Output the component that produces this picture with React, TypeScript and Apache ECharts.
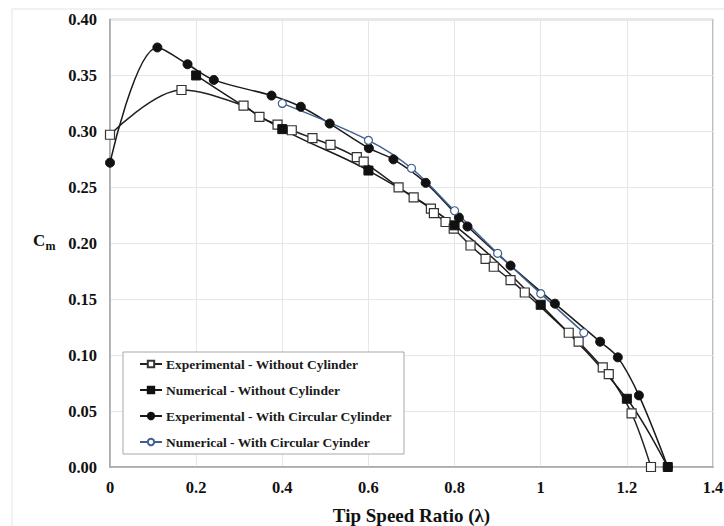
import React, { useEffect, useRef } from "react";
import * as echarts from "echarts";

// Power coefficient Cm versus tip speed ratio λ, [λ, Cm]
const expWithoutCylinder: [number, number][] = [
  [0, 0.297], [0.166, 0.337], [0.31, 0.323], [0.347, 0.313], [0.389, 0.306],
  [0.422, 0.301], [0.47, 0.294], [0.512, 0.288], [0.573, 0.277], [0.589, 0.273],
  [0.67, 0.25], [0.705, 0.241], [0.745, 0.231], [0.752, 0.227], [0.779, 0.219],
  [0.798, 0.213], [0.837, 0.198], [0.872, 0.186], [0.891, 0.179], [0.93, 0.167],
  [0.963, 0.156], [1.065, 0.12], [1.088, 0.112], [1.144, 0.089], [1.158, 0.083],
  [1.211, 0.048], [1.256, 0.0],
];

const numWithoutCylinder: [number, number][] = [
  [0.2, 0.35], [0.4, 0.302], [0.6, 0.265], [0.8, 0.216], [1.0, 0.145],
  [1.2, 0.061], [1.295, 0.0],
];

const expWithCylinder: [number, number][] = [
  [0, 0.272], [0.11, 0.375], [0.18, 0.36], [0.241, 0.346], [0.375, 0.332],
  [0.443, 0.322], [0.51, 0.307], [0.601, 0.285], [0.658, 0.275], [0.733, 0.254],
  [0.81, 0.223], [0.83, 0.215], [0.93, 0.18], [1.033, 0.146], [1.138, 0.112],
  [1.179, 0.098], [1.228, 0.064], [1.295, 0.0],
];

const numWithCylinder: [number, number][] = [
  [0.4, 0.325], [0.6, 0.292], [0.7, 0.267], [0.8, 0.229], [0.9, 0.191],
  [1.0, 0.155], [1.1, 0.12],
];

const seriesNames = [
  "Experimental - Without Cylinder",
  "Numerical - Without Cylinder",
  "Experimental - With Circular Cylinder",
  "Numerical - With Circular Cyinder",
];

const FONT = "'Liberation Serif', 'Times New Roman', serif";
const BLUE = "#3f5f8f";

export default function App() {
  const ref = useRef<HTMLDivElement>(null);

  useEffect(() => {
    if (!ref.current) return;
    const chart = echarts.init(ref.current, undefined, { renderer: "svg" });

    const base = {
      type: "line" as const,
      smooth: 0.35,
      showSymbol: true,
      showAllSymbol: true,
      z: 3,
    };

    chart.setOption({
      animation: false,
      backgroundColor: "#ffffff",
      textStyle: { fontFamily: FONT },
      grid: {
        left: 110,
        right: 11,
        top: 19.5,
        bottom: 59,
        outerBoundsMode: "none",
        containLabel: false,
        show: true,
        borderColor: "#a8a8a8",
        borderWidth: 1.5,
        backgroundColor: "transparent",
      },
      graphic: [
        {
          type: "rect",
          shape: { x: 12, y: 9, width: 730, height: 540 },
          style: { fill: "none", stroke: "#e3e3e3", lineWidth: 1 },
          silent: true,
          z: -10,
        },
        {
          type: "text",
          x: 33,
          y: 240,
          style: {
            text: "C",
            font: `bold 17px ${FONT}`,
            fill: "#111",
            verticalAlign: "middle",
          },
        },
        {
          type: "text",
          x: 45.5,
          y: 246,
          style: {
            text: "m",
            font: `bold 12px ${FONT}`,
            fill: "#111",
            verticalAlign: "middle",
          },
        },
      ],
      legend: {
        orient: "vertical",
        left: 123,
        top: 352,
        backgroundColor: "#ffffff",
        borderColor: "#a8a8a8",
        borderWidth: 1,
        padding: [5, 12, 5, 16],
        itemWidth: 22,
        itemHeight: 8,
        itemGap: 12,
        textStyle: {
          fontFamily: FONT,
          fontWeight: "bold",
          fontSize: 13.5,
          color: "#1a1a1a",
          padding: [0, 0, 0, -1],
        },
        data: seriesNames,
      },
      xAxis: {
        type: "value",
        min: 0,
        max: 1.4,
        interval: 0.2,
        name: "Tip Speed Ratio (λ)",
        nameLocation: "middle",
        nameGap: 39,
        nameTextStyle: {
          fontFamily: FONT,
          fontWeight: "bold",
          fontSize: 19,
          color: "#111",
        },
        axisLine: { show: true, lineStyle: { color: "#a8a8a8", width: 1.5 } },
        axisTick: { show: false },
        axisLabel: {
          margin: 12,
          fontFamily: FONT,
          fontWeight: "bold",
          fontSize: 16.5,
          color: "#111",
        },
        splitLine: { show: true, lineStyle: { color: "#e6e6e6", width: 1 } },
      },
      yAxis: {
        type: "value",
        min: 0,
        max: 0.4,
        interval: 0.05,
        axisLine: { show: true, lineStyle: { color: "#a8a8a8", width: 1.5 } },
        axisTick: { show: false },
        axisLabel: {
          margin: 13,
          fontFamily: FONT,
          fontWeight: "bold",
          fontSize: 16.5,
          color: "#111",
          formatter: (v: number) => v.toFixed(2),
        },
        splitLine: { show: true, lineStyle: { color: "#e6e6e6", width: 1 } },
      },
      series: [
        {
          ...base,
          name: seriesNames[0],
          data: expWithoutCylinder,
          symbol: "rect",
          symbolSize: 9,
          lineStyle: { color: "#222", width: 1.5 },
          itemStyle: { color: "#ffffff", borderColor: "#333", borderWidth: 1.2 },
        },
        {
          ...base,
          name: seriesNames[1],
          data: numWithoutCylinder,
          symbol: "rect",
          symbolSize: 9,
          lineStyle: { color: "#1a1a1a", width: 1.5 },
          itemStyle: { color: "#111", borderColor: "#111", borderWidth: 1 },
        },
        {
          ...base,
          name: seriesNames[2],
          data: expWithCylinder,
          symbol: "circle",
          symbolSize: 9,
          lineStyle: { color: "#1a1a1a", width: 1.5 },
          itemStyle: { color: "#111", borderColor: "#111", borderWidth: 1 },
        },
        {
          ...base,
          name: seriesNames[3],
          data: numWithCylinder,
          symbol: "circle",
          symbolSize: 8,
          lineStyle: { color: BLUE, width: 1.5 },
          itemStyle: { color: "#ffffff", borderColor: BLUE, borderWidth: 1.2 },
        },
      ],
    });

    return () => chart.dispose();
  }, []);

  return (
    <div
      ref={ref}
      style={{ position: "fixed", left: 0, top: 0, width: 724, height: 526 }}
    />
  );
}
